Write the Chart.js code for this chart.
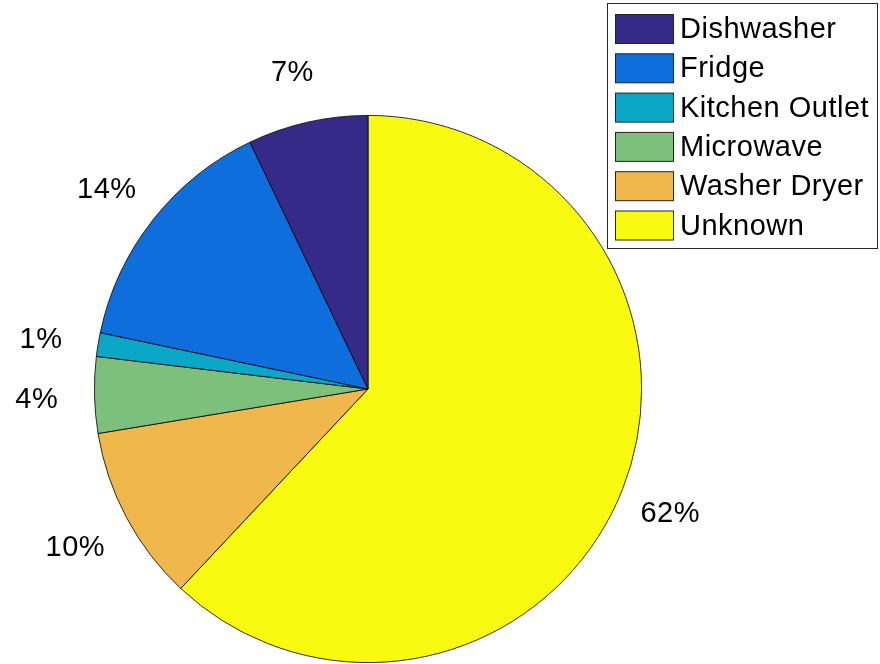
<!DOCTYPE html>
<html>
<head>
<meta charset="utf-8">
<script src="https://cdn.jsdelivr.net/npm/chart.js@4"></script>
<style>
  html, body { margin: 0; padding: 0; background: #fff; }
  canvas { display: block; }
</style>
</head>
<body>
<canvas id="pie" width="880" height="664"></canvas>
<script>
// Appliance shares (percent), in legend order
const categories = ['Dishwasher', 'Fridge', 'Kitchen Outlet', 'Microwave', 'Washer Dryer', 'Unknown'];
const shares = [7.1, 14.6, 1.4, 4.5, 10.4, 62.0];
const percentLabels = ['7%', '14%', '1%', '4%', '10%', '62%'];
const sliceColors = ['#352a87', '#0e6fdc', '#0aa8c6', '#7dc07c', '#f0b74b', '#f8fa0f'];

const FONT = '29px "Liberation Sans", Arial, Helvetica, sans-serif';

// MATLAB goes counter-clockwise from the top; Chart.js goes clockwise,
// so feed the slices reversed.
const rev = arr => arr.slice().reverse();

// Percentage labels outside the pie
const outsideLabels = {
    id: 'outsideLabels',
    afterDatasetsDraw(chart) {
        const ctx = chart.ctx;
        const meta = chart.getDatasetMeta(0);
        const texts = rev(percentLabels);
        ctx.save();
        ctx.font = FONT;
        ctx.letterSpacing = '0.5px';
        ctx.fillStyle = '#000';
        ctx.textAlign = 'center';
        ctx.textBaseline = 'middle';
        meta.data.forEach((arc, i) => {
            const mid = (arc.startAngle + arc.endAngle) / 2;
            const r = arc.outerRadius * 1.2;
            ctx.fillText(texts[i], arc.x + r * Math.cos(mid) - 3, arc.y + r * Math.sin(mid) + 4);
        });
        ctx.restore();
    }
};

// Boxed legend in the top right corner
const boxLegend = {
    id: 'boxLegend',
    afterDraw(chart) {
        const ctx = chart.ctx;
        const x0 = 607.5, y0 = 3.5, w = 270, h = 245;
        ctx.save();
        ctx.fillStyle = '#fff';
        ctx.fillRect(x0, y0, w, h);
        ctx.strokeStyle = '#262626';
        ctx.lineWidth = 1;
        ctx.strokeRect(x0, y0, w, h);
        ctx.font = FONT;
        ctx.letterSpacing = '0.5px';
        ctx.textAlign = 'left';
        ctx.textBaseline = 'middle';
        categories.forEach((name, i) => {
            const cy = 29 + i * 39.3;
            ctx.fillStyle = sliceColors[i];
            ctx.fillRect(615.5, cy - 14.5, 58, 29);
            ctx.strokeStyle = '#222';
            ctx.strokeRect(615.5, cy - 14.5, 58, 29);
            ctx.fillStyle = '#000';
            ctx.fillText(name, 680, cy + 1);
        });
        ctx.restore();
    }
};

new Chart(document.getElementById('pie'), {
    type: 'pie',
    data: {
        labels: rev(categories),
        datasets: [{
            data: rev(shares),
            backgroundColor: rev(sliceColors),
            borderColor: '#000',
            borderWidth: 0.8
        }]
    },
    options: {
        responsive: false,
        animation: false,
        layout: { padding: { left: 94, top: 115, right: 238, bottom: 1 } },
        plugins: {
            legend: { display: false },
            tooltip: { enabled: false }
        }
    },
    plugins: [outsideLabels, boxLegend]
});
</script>
</body>
</html>
